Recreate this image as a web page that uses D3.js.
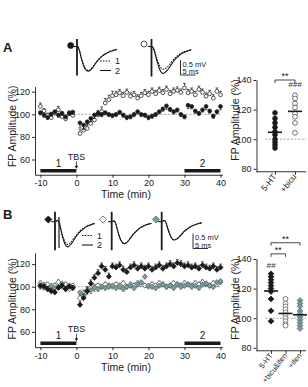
<!DOCTYPE html>
<html><head><meta charset="utf-8">
<script src="https://cdn.jsdelivr.net/npm/d3@7"></script>
<style>body{margin:0;background:#fff}svg{display:block}</style>
</head><body><svg id="c" width="308" height="387"></svg>
<script>
// ---------- data ----------
const timeMin = [-10,-9,-8,-7,-6,-5,-4,-3,-2,-1,1,2,3,4,5,6,7,8,9,10,11,12,13,14,15,16,17,18,19,20,21,22,23,24,25,26,27,28,29,30,31,32,33,34,35,36,37,38,39,40];
const yTicks = [60,80,100,120];
const xTicks = [-10,0,10,20,30,40];
const scatterTicks = [80,100,120,140];

// Panel A time course: 5-HT (filled) and +bicu (open)
const aFilled = [101.5,99.4,97.3,100.3,102.4,99.4,101,98,101,102,
 92.5,90.5,93.4,96.4,99.4,101,100,101.5,100,99,
 100,102,99.4,97.3,98,100,102.4,100,99.4,97.3,
 98.5,100,102.4,104.8,107.5,104.5,102.4,104,100,98,
 108,107,103,101,104,107,103,98.5,102.4,107];
const aFilledSem = [2,2,2,2,2,2,2,2,2,2,
 4,4,3,3,3,2,2,2,2,2, 2,2,2,2,2,2,2,2,2,2,
 2,2,2,2,3,2,2,2,2,2, 3,2,2,2,2,3,2,2,2,3];
const aOpen = [107,103,99,97,101,104,98,96,101,99,
 83,86,87.5,92,95,99.4,102.4,110,113,116.4,
 117.3,119,116.4,119.4,116,117.3,114.3,116.4,119,117.3,
 120.3,118.2,121,119,122,118.2,120.3,121.2,119.4,123.3,
 119,120.3,117.3,122,119.4,116,118.2,114.3,120.3,117.3];
const aOpenSem = [3,2,2,3,2,3,2,2,2,3,
 4,4,4,4,4,4,4,4,4,4, 3,3,3,3,3,3,3,3,3,3,
 3,3,3,3,3,3,3,3,3,4, 3,3,3,3,3,3,3,3,3,3];

// Panel B time course: 5-HT (black), +bicu&ifen (open), +ifen (grey)
const bBlack = [101,100,98,96,95,99,101,98,100,99,
 84,90,96,103,108,112,118,115,109,118,
 117,119,115,113,117,119,116,118,116,118,
 115,117,119,116,118,120,118,121,120,118,
 119,117,118,116,119,117,116,118,115,117];
const bBlackSem = [2,2,2,2,2,2,2,2,2,2,
 3,4,4,3,3,3,3,3,3,3, 3,3,3,3,3,3,3,3,3,3,
 3,3,3,3,3,3,3,3,3,3, 3,3,3,3,3,3,3,3,3,3];
const bOpen = [103,99,102,97,101,104,100,102,98,101,
 90,94,97,99,100,101,100,102,101,100,
 102,101,103,100,102,101,103,102,101,100,
 102,101,103,102,100,101,103,102,101,103,
 102,101,103,102,104,102,101,103,102,104];
const bOpenSem = [2,2,2,2,2,2,2,2,2,2,
 3,3,2,2,2,2,2,2,2,2, 2,2,2,2,2,2,2,2,2,2,
 2,2,2,2,2,2,2,2,2,2, 2,2,2,2,2,2,2,2,2,2];
const bGrey = [100,102,98,101,99,100,103,98,101,99,
 95,92,96,97,99,98,100,99,100,101,
 99,100,98,100,101,99,102,104,109,101,
 100,99,101,102,100,101,99,102,100,101,
 102,100,101,99,102,103,101,100,104,105];
const bGreySem = [2,2,2,2,2,2,2,2,2,2,
 3,3,3,3,3,2,2,2,2,2, 2,2,2,2,2,2,2,2,2,2,
 2,2,2,2,2,2,2,2,2,2, 2,2,2,2,2,2,2,2,2,2];

// Scatter summaries
const catsA = ["5-HT","+bicu"];
const scatA_5HT = [117.8,114,111,108,105,103,100,98,96,94];
const scatA_bicu = [129.7,127.5,124.1,121.4,117.4,115.1,111,104.3];
const catsB = ["5-HT","+bicu&ifen","+ifen"];
const scatB_5HT = [130,128,126,124,122,120,118,113,105,98];
const scatB_bicuIfen = [113,110,108,106,104,102,100,98,96,95];
const scatB_ifen = [112,110,108,105,103,101,99,97,95,93];

// Example field potential traces (ms after stimulus, mV)
const traceMs = [0,0.5,1,1.5,2,2.5,3,3.5,4,5,6,7,8,9,10,11,12,13];
const trA5HT_1 = [0,-0.12,-0.32,-0.5,-0.64,-0.74,-0.78,-0.8,-0.78,-0.67,-0.54,-0.42,-0.32,-0.25,-0.19,-0.15,-0.12,-0.1];
const trA5HT_2 = [0,-0.13,-0.34,-0.51,-0.66,-0.76,-0.81,-0.82,-0.8,-0.7,-0.55,-0.43,-0.33,-0.26,-0.2,-0.16,-0.13,-0.1];
const trAbicu_1 = [0,-0.08,-0.24,-0.4,-0.54,-0.66,-0.73,-0.76,-0.75,-0.68,-0.56,-0.44,-0.34,-0.26,-0.21,-0.16,-0.13,-0.1];
const trAbicu_2 = [0,-0.1,-0.29,-0.48,-0.64,-0.78,-0.86,-0.9,-0.88,-0.79,-0.65,-0.5,-0.38,-0.3,-0.22,-0.18,-0.14,-0.11];
const trB5HT_1 = [0,0.05,0,-0.18,-0.38,-0.54,-0.67,-0.74,-0.76,-0.69,-0.55,-0.42,-0.31,-0.23,-0.16,-0.12,-0.08,-0.05];
const trB5HT_2 = [0,0.05,0,-0.2,-0.42,-0.6,-0.74,-0.82,-0.84,-0.76,-0.61,-0.46,-0.34,-0.25,-0.18,-0.13,-0.09,-0.06];
const trBbi_1 = [0,0.03,-0.05,-0.22,-0.4,-0.55,-0.65,-0.71,-0.72,-0.66,-0.53,-0.4,-0.3,-0.22,-0.16,-0.11,-0.08,-0.05];
const trBbi_2 = [0,0.03,-0.05,-0.23,-0.41,-0.56,-0.66,-0.72,-0.73,-0.67,-0.54,-0.41,-0.31,-0.22,-0.16,-0.11,-0.08,-0.05];
const trBif_1 = [0,0.05,0,-0.15,-0.3,-0.44,-0.54,-0.59,-0.6,-0.55,-0.45,-0.34,-0.25,-0.18,-0.13,-0.09,-0.06,-0.04];
const trBif_2 = [0,0.05,0,-0.16,-0.31,-0.45,-0.55,-0.6,-0.61,-0.56,-0.46,-0.35,-0.26,-0.19,-0.13,-0.09,-0.06,-0.04];

// ---------- drawing ----------
const FONT = '"Liberation Sans", Arial, Helvetica, sans-serif';
const INK = "#1a1a1a";
const GREYFILL = "#7f9c9c", GREYSTROKE = "#4e6a6a";
const svg = d3.select("#c");

function txt(g, x, y, s, size, opts={}) {
  const t = g.append("text").attr("x", x).attr("y", y).text(s)
    .attr("font-family", FONT).attr("font-size", size).attr("fill", opts.fill || INK);
  if (opts.anchor) t.attr("text-anchor", opts.anchor);
  if (opts.weight) t.attr("font-weight", opts.weight);
  if (opts.transform) t.attr("transform", opts.transform);
  return t;
}
function diamond(s){ return `M0,${-s}L${s},0L0,${s}L${-s},0Z`; }
function styleAxis(a, fs){
  a.selectAll("text").attr("font-size", fs).attr("font-family", FONT).attr("fill", INK);
  a.selectAll("path,line").attr("stroke", INK).attr("stroke-width", 0.9);
}

function drawMarker(g, cx, cy, st){
  if (st.shape === "circle") {
    g.append("circle").attr("cx", cx).attr("cy", cy).attr("r", st.r)
      .attr("fill", st.fill).attr("stroke", st.stroke).attr("stroke-width", 0.75);
  } else {
    g.append("path").attr("d", diamond(st.r + 0.6)).attr("transform", `translate(${cx},${cy})`)
      .attr("fill", st.fill).attr("stroke", st.stroke).attr("stroke-width", 0.75);
  }
}

function timePanel(y100, yTop, series){
  const k = 1.13;
  const x = d3.scaleLinear().domain([-11.5, 40.5]).range([35, 222.3]);
  const y = d3.scaleLinear().domain([46.5, yTop]).range([y100 + (100-46.5)*k, y100 - (yTop-100)*k]);
  const g = svg.append("g");
  g.append("line").attr("x1", x(-10.6)).attr("x2", x(40.3)).attr("y1", y(100)).attr("y2", y(100))
    .attr("stroke", "#8a8a8a").attr("stroke-width", 0.8).attr("stroke-dasharray", "2,1.6");
  const ya = g.append("g").attr("transform", `translate(${x(-11.5)},0)`)
    .call(d3.axisLeft(y).tickValues(yTicks).tickSize(3).tickSizeOuter(0).tickPadding(2));
  const xa = g.append("g").attr("transform", `translate(0,${y(46.5)})`)
    .call(d3.axisBottom(x).tickValues(xTicks).tickFormat(d => String(d)).tickSize(3).tickSizeOuter(0).tickPadding(2));
  styleAxis(ya, 9); styleAxis(xa, 9);
  series.forEach(s => {
    const eg = g.append("g");
    timeMin.forEach((t, i) => {
      const v = s.vals[i], e = s.sem[i] * s.dir;
      const cx = x(t);
      eg.append("line").attr("x1", cx).attr("x2", cx).attr("y1", y(v)).attr("y2", y(v + e))
        .attr("stroke", s.stroke).attr("stroke-width", 0.7);
      eg.append("line").attr("x1", cx - 1.4).attr("x2", cx + 1.4).attr("y1", y(v + e)).attr("y2", y(v + e))
        .attr("stroke", s.stroke).attr("stroke-width", 0.7);
    });
    const mg = g.append("g");
    timeMin.forEach((t, i) => drawMarker(mg, x(t), y(s.vals[i]), s));
  });
  [[-10, 0, "1"], [30, 40, "2"]].forEach(([a, b, l]) => {
    g.append("line").attr("x1", x(a)).attr("x2", x(b)).attr("y1", y(50)).attr("y2", y(50))
      .attr("stroke", INK).attr("stroke-width", 3.6);
    txt(g, x((a + b) / 2), y(50) - 4, l, 10, {anchor: "middle"});
  });
  txt(g, x(0), y(62.7) + 3.3, "TBS", 9, {anchor: "middle"});
  g.append("line").attr("x1", x(0)).attr("x2", x(0)).attr("y1", y(62.7) + 5).attr("y2", y(50) - 3)
    .attr("stroke", INK).attr("stroke-width", 0.8);
  g.append("path").attr("d", `M${x(0)-1.8},${y(50)-5}L${x(0)+1.8},${y(50)-5}L${x(0)},${y(50)-2}Z`).attr("fill", INK);
  txt(g, 12, y100 + 12, "FP Amplitude (%)", 10.5, {anchor: "middle", transform: `rotate(-90,12,${y100 + 12})`})
    .attr("dy", "0.35em");
  txt(g, 126, y100 + 84, "Time (min)", 10.5, {anchor: "middle"});
}

function scatterPanel(y140, cats, xr, groups, brackets, marks, labelRot, labelSize){
  const k = 1.48;
  const y = d3.scaleLinear().domain([78, 140]).range([y140 + 62*k, y140]);
  const x = d3.scalePoint().domain(cats).range(xr);
  const g = svg.append("g");
  const ax = 256.5;
  g.append("line").attr("x1", ax + 9).attr("x2", 306).attr("y1", y(100)).attr("y2", y(100))
    .attr("stroke", "#8a8a8a").attr("stroke-width", 0.8).attr("stroke-dasharray", "2,1.6");
  const ya = g.append("g").attr("transform", `translate(${ax},0)`)
    .call(d3.axisLeft(y).tickValues(scatterTicks).tickSize(3).tickSizeOuter(0).tickPadding(2));
  styleAxis(ya, 9);
  const xa = g.append("g").attr("transform", `translate(0,${y(78)})`)
    .call(d3.axisBottom(x).tickSize(3).tickFormat(""));
  xa.select(".domain").remove();
  styleAxis(xa, 9);
  g.append("line").attr("x1", ax).attr("x2", 306).attr("y1", y(78)).attr("y2", y(78)).attr("stroke", INK).attr("stroke-width", 0.9);
  groups.forEach(gr => {
    gr.vals.forEach(v => drawMarker(g, x(gr.cat), y(v), gr));
    const m = d3.mean(gr.vals);
    g.append("line").attr("x1", x(gr.cat) - 7).attr("x2", x(gr.cat) + 7).attr("y1", y(m)).attr("y2", y(m))
      .attr("stroke", INK).attr("stroke-width", 1.6);
  });
  brackets.forEach(b => {
    const x1 = x(b.a), x2 = x(b.b), yy = y(b.v);
    g.append("path").attr("d", `M${x1},${yy + 3}V${yy}H${x2}V${yy + 3}`).attr("fill", "none").attr("stroke", INK).attr("stroke-width", 0.8);
    txt(g, (x1 + x2) / 2, yy - 1.2, b.label, 9, {anchor: "middle"});
  });
  marks.forEach(m => txt(g, x(m.cat), y(m.v), m.label, 8, {anchor: "middle", fill: "#333"}).attr("font-style", "italic"));
  cats.forEach(c => {
    const px = x(c) + 2, py = y(78) + 5;
    txt(g, px, py, c, labelSize, {anchor: "end", transform: `rotate(${labelRot},${px},${py})`});
  });
  const cy = y(113);
  txt(g, 235, cy, "FP Amplitude (%)", 10.5, {anchor: "middle", transform: `rotate(-90,235,${cy})`}).attr("dy", "0.35em");
}

function drawTrace(g, x0, y0, vals, pxMs, pxMv, dashed){
  const x = d3.scaleLinear().domain([0, 1]).range([x0, x0 + pxMs]);
  const y = d3.scaleLinear().domain([0, 1]).range([y0, y0 - pxMv]);
  const line = d3.line().x((d, i) => x(traceMs[i] + 0.3)).y(d => y(d)).curve(d3.curveCatmullRom);
  g.append("path").attr("d", line(vals)).attr("fill", "none").attr("stroke", INK)
    .attr("stroke-width", 1.1).attr("stroke-dasharray", dashed ? "1.6,1.2" : null);
  return {x, y};
}
function traceSet(g, x0, y0, v1, v2, pxMs, pxMv, artTop, artBot){
  const s = drawTrace(g, x0, y0, v1, pxMs, pxMv, true);
  drawTrace(g, x0, y0, v2, pxMs, pxMv, false);
  g.append("line").attr("x1", s.x(-1.2)).attr("x2", s.x(0)).attr("y1", s.y(0)).attr("y2", s.y(0)).attr("stroke", INK).attr("stroke-width", 1.1);
  g.append("line").attr("x1", s.x(0)).attr("x2", s.x(0)).attr("y1", s.y(artTop)).attr("y2", s.y(artBot)).attr("stroke", INK).attr("stroke-width", 1.8);
}
function legendLines(g, xl, y1, y2){
  g.append("line").attr("x1", xl).attr("x2", xl + 11).attr("y1", y1).attr("y2", y1).attr("stroke", INK).attr("stroke-width", 1).attr("stroke-dasharray", "1.6,1.2");
  g.append("line").attr("x1", xl).attr("x2", xl + 11).attr("y1", y2).attr("y2", y2).attr("stroke", INK).attr("stroke-width", 1.1);
  txt(g, xl + 15, y1 + 3, "1", 9); txt(g, xl + 15, y2 + 3, "2", 9);
}
function scaleBar(g, xb, yb, pxMs, pxMv){
  g.append("path").attr("d", `M${xb},${yb - 0.5*pxMv}V${yb}H${xb + 5*pxMs}`).attr("fill", "none").attr("stroke", INK).attr("stroke-width", 0.9);
  txt(g, xb + 2, yb - 8.4, "0.5 mV", 7.5);
  txt(g, xb + 2, yb - 0.9, "5 ms", 7.5);
}

// ---- Panel A ----
txt(svg, 3, 52, "A", 13, {weight: "bold"});
const gA = svg.append("g");
drawMarker(gA, 70.7, 45.5, {shape: "circle", r: 3, fill: INK, stroke: INK});
drawMarker(gA, 144, 44, {shape: "circle", r: 3, fill: "#fff", stroke: INK});
traceSet(gA, 77, 46.5, trA5HT_1, trA5HT_2, 3, 30, 0.25, -0.97);
traceSet(gA, 151.5, 46.5, trAbicu_1, trAbicu_2, 3, 30, 0.25, -1.0);
legendLines(gA, 100, 61, 70.5);
scaleBar(gA, 180.5, 75, 3, 30);

timePanel(114.3, 124.5, [
  {vals: aOpen, sem: aOpenSem, dir: 1, shape: "circle", r: 1.9, fill: "#fff", stroke: INK},
  {vals: aFilled, sem: aFilledSem, dir: -1, shape: "circle", r: 1.9, fill: INK, stroke: INK}
]);
scatterPanel(80, catsA, [275, 295], [
  {cat: "5-HT", vals: scatA_5HT, shape: "circle", r: 2.4, fill: INK, stroke: INK},
  {cat: "+bicu", vals: scatA_bicu, shape: "circle", r: 2.4, fill: "#fff", stroke: "#444"}
], [{a: "5-HT", b: "+bicu", v: 140, label: "**"}], [{cat: "+bicu", v: 135.5, label: "###"}], -52, 8.5);

// ---- Panel B ----
txt(svg, 3, 219, "B", 13, {weight: "bold"});
const gB = svg.append("g");
drawMarker(gB, 48.3, 219.5, {shape: "diamond", r: 3, fill: INK, stroke: INK});
drawMarker(gB, 103, 219.5, {shape: "diamond", r: 3, fill: "#fff", stroke: "#444"});
drawMarker(gB, 156, 219.5, {shape: "diamond", r: 3, fill: GREYFILL, stroke: GREYSTROKE});
traceSet(gB, 55, 221.7, trB5HT_1, trB5HT_2, 3, 30, 0.33, -0.95);
gB.append("line").attr("x1", 59).attr("x2", 59).attr("y1", 217).attr("y2", 248).attr("stroke", INK).attr("stroke-width", 1.2);
traceSet(gB, 111.7, 221.7, trBbi_1, trBbi_2, 3, 30, 0.33, -0.95);
traceSet(gB, 161.7, 221.7, trBif_1, trBif_2, 3, 30, 0.33, -0.95);
legendLines(gB, 82, 235.5, 245);
scaleBar(gB, 193, 248.5, 3, 30);

timePanel(286.7, 130, [
  {vals: bOpen, sem: bOpenSem, dir: 1, shape: "diamond", r: 2.0, fill: "#fff", stroke: "#444"},
  {vals: bGrey, sem: bGreySem, dir: -1, shape: "diamond", r: 2.0, fill: GREYFILL, stroke: GREYSTROKE},
  {vals: bBlack, sem: bBlackSem, dir: 1, shape: "diamond", r: 2.0, fill: INK, stroke: INK}
]);
scatterPanel(259, catsB, [271, 300], [
  {cat: "5-HT", vals: scatB_5HT, shape: "diamond", r: 2.3, fill: INK, stroke: INK},
  {cat: "+bicu&ifen", vals: scatB_bicuIfen, shape: "circle", r: 2.4, fill: "#fff", stroke: "#555"},
  {cat: "+ifen", vals: scatB_ifen, shape: "diamond", r: 2.3, fill: GREYFILL, stroke: GREYSTROKE}
], [{a: "5-HT", b: "+ifen", v: 151, label: "**"}, {a: "5-HT", b: "+bicu&ifen", v: 143.5, label: "**"}],
   [{cat: "5-HT", v: 134, label: "##"}], -52, 7.5);
</script>
</body></html>
